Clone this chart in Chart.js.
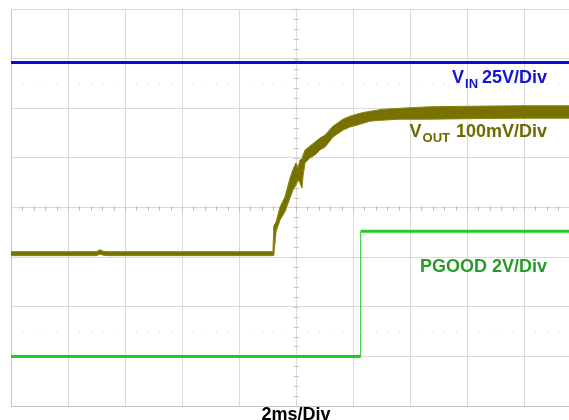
<!DOCTYPE html>
<html>
<head>
<meta charset="utf-8">
<script src="https://cdn.jsdelivr.net/npm/chart.js@4.4.1/dist/chart.umd.min.js"></script>
<style>
  html, body { margin: 0; padding: 0; background: #ffffff; overflow: hidden; }
  #wrap { width: 569px; height: 420px; overflow: hidden; position: relative; }
  canvas { display: block; }
</style>
</head>
<body>
<div id="wrap"><canvas id="scope" width="600" height="420"></canvas></div>
<script>
// Time axis in ms (2 ms/div, 10 divisions); vertical values in screen divisions (0..8)
const voutT  = [0, 3.0, 3.12, 3.23, 3.4, 9.19, 9.22, 9.30, 9.44, 9.61, 9.79, 9.89, 10.0, 10.07, 10.14, 10.21, 10.25, 10.32, 10.49, 10.67, 10.84, 11.02, 11.30, 11.65, 11.89, 12.25, 12.60, 13.05, 13.65, 14.70, 16.11, 17.86, 20];
const voutHi = [3.11, 3.11, 3.15, 3.12, 3.11, 3.11, 3.63, 3.71, 4.01, 4.21, 4.59, 4.76, 4.90, 4.80, 4.96, 4.98, 5.06, 5.16, 5.24, 5.32, 5.40, 5.46, 5.64, 5.78, 5.84, 5.90, 5.94, 5.98, 6.00, 6.03, 6.04, 6.05, 6.05];
const voutLo = [3.03, 3.03, 3.06, 3.04, 3.03, 3.03, 3.03, 3.51, 3.75, 3.91, 4.19, 4.35, 4.45, 4.55, 4.50, 4.39, 4.65, 4.90, 5.00, 5.06, 5.16, 5.22, 5.42, 5.56, 5.62, 5.68, 5.74, 5.76, 5.78, 5.78, 5.79, 5.80, 5.80];

const vinT   = [0, 20];
const vinDiv = [6.92, 6.92];

const pgoodT   = [0, 12.27, 12.27, 20];
const pgoodDiv = [1.0, 1.0, 3.52, 3.52];

const pts = (xs, ys) => xs.map((x, i) => ({ x: x, y: ys[i] }));

const FONT = '"Liberation Sans", Arial, Helvetica, sans-serif';

// Minor ticks on the centre axes and dotted reference rows
const scopeGrid = {
  id: 'scopeGrid',
  beforeDatasetsDraw(chart) {
    const { ctx, scales: { x, y } } = chart;
    ctx.save();
    ctx.fillStyle = '#c2c2c2';
    const cy = Math.round(y.getPixelForValue(4));
    const cx = Math.round(x.getPixelForValue(10));
    for (let t = 0; t <= 20.001; t += 0.4) {
      const px = Math.round(x.getPixelForValue(t));
      ctx.fillRect(px, cy - 2, 1, 5);
    }
    for (let v = 0; v <= 8.001; v += 0.2) {
      const py = Math.round(y.getPixelForValue(v));
      ctx.fillRect(cx - 2, py, 5, 1);
    }
    ctx.fillStyle = '#d0d0d0';
    [6.5, 1.5].forEach(v => {
      const py = Math.round(y.getPixelForValue(v));
      for (let t = 0.4; t < 20; t += 0.4) {
        if (Math.abs(t / 2 - Math.round(t / 2)) < 0.01) continue;
        const px = Math.round(x.getPixelForValue(t));
        ctx.fillRect(px, py, 1, 1);
      }
    });
    ctx.restore();
  }
};

// Channel captions and the time-base caption
const captions = {
  id: 'captions',
  afterDatasetsDraw(chart) {
    const { ctx, scales: { x, y } } = chart;
    const big = 'bold 18px ' + FONT;
    const small = 'bold 13px ' + FONT;
    const xr = x.getPixelForValue(18.81);

    function label(main, sub, tail, baseV, color, gap) {
      const base = y.getPixelForValue(baseV);
      ctx.fillStyle = color;
      ctx.textAlign = 'right';
      ctx.textBaseline = 'alphabetic';
      ctx.font = big;
      ctx.fillText(tail, xr, base);
      let edge = xr - ctx.measureText(tail).width - gap;
      if (sub) {
        ctx.font = small;
        ctx.fillText(sub, edge, base + 5);
        edge -= ctx.measureText(sub).width + 1;
      }
      if (main) {
        ctx.font = big;
        ctx.fillText(main, edge, base);
      }
    }

    ctx.save();
    label('V', 'IN', '25V/Div', 6.51, '#1414d4', 4);
    label('V', 'OUT', '100mV/Div', 5.42, '#6f6a00', 6);
    label(null, null, 'PGOOD 2V/Div', 2.70, '#289a28', 0);

    ctx.font = big;
    ctx.fillStyle = '#000000';
    ctx.textAlign = 'center';
    ctx.fillText('2ms/Div', x.getPixelForValue(10), 420);
    ctx.restore();
  }
};

new Chart(document.getElementById('scope'), {
  type: 'line',
  data: {
    datasets: [
      {
        label: 'VIN',
        data: pts(vinT, vinDiv),
        borderColor: '#0a0ad8',
        borderWidth: 3,
        pointRadius: 0,
        fill: false
      },
      {
        label: 'PGOOD',
        data: pts(pgoodT, pgoodDiv),
        borderColor: '#22cc22',
        borderWidth: 3,
        pointRadius: 0,
        fill: false,
        segment: {
          borderWidth: c => (c.p0.parsed.x === c.p1.parsed.x ? 1 : 3)
        }
      },
      {
        label: 'VOUT max',
        data: pts(voutT, voutHi),
        borderColor: '#8a840c',
        borderWidth: 1,
        pointRadius: 0,
        fill: false
      },
      {
        label: 'VOUT min',
        data: pts(voutT, voutLo),
        borderColor: '#8a840c',
        borderWidth: 1,
        pointRadius: 0,
        fill: '-1',
        backgroundColor: '#777100'
      }
    ]
  },
  options: {
    responsive: false,
    devicePixelRatio: 1,
    animation: false,
    events: [],
    layout: { padding: { left: 11, top: 9, right: 19, bottom: 14 } },
    elements: { line: { tension: 0 } },
    plugins: { legend: { display: false }, tooltip: { enabled: false } },
    scales: {
      x: {
        type: 'linear',
        min: 0,
        max: 20,
        ticks: { display: false, stepSize: 2 },
        grid: { color: '#dadada', drawTicks: false },
        border: { color: '#c6c6c6' }
      },
      y: {
        type: 'linear',
        min: 0,
        max: 8,
        ticks: { display: false, stepSize: 1 },
        grid: { color: '#dadada', drawTicks: false },
        border: { color: '#c6c6c6' }
      }
    }
  },
  plugins: [scopeGrid, captions]
});
</script>
</body>
</html>
